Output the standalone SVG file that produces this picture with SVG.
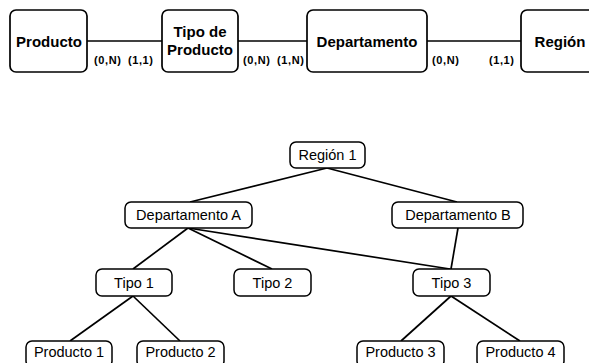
<svg xmlns="http://www.w3.org/2000/svg" width="589" height="363" viewBox="0 0 589 363">
  <style>
    .ent { fill: #fff; stroke: #000; stroke-width: 1.7; }
    .node { fill: #fff; stroke: #000; stroke-width: 1.5; }
    .edge { stroke: #000; stroke-width: 1.7; fill: none; }
    .big { font-family: "Liberation Sans", Arial, sans-serif; font-weight: bold; font-size: 15px; text-anchor: middle; fill: #000; }
    .card { font-family: "Liberation Sans", Arial, sans-serif; font-weight: bold; font-size: 11px; fill: #000; }
    .lbl { font-family: "Liberation Sans", Arial, sans-serif; font-size: 14.5px; text-anchor: middle; fill: #000; }
  </style>

  <!-- connectors -->
  <g id="connectors">
    <line class="edge" x1="87" y1="41" x2="162" y2="41"/>
    <line class="edge" x1="238" y1="41" x2="307" y2="41"/>
    <line class="edge" x1="427" y1="41" x2="521" y2="41"/>

    <line class="edge" x1="327" y1="168" x2="190" y2="202"/>
    <line class="edge" x1="327" y1="168" x2="457" y2="202"/>
    <line class="edge" x1="188" y1="228" x2="133" y2="269"/>
    <line class="edge" x1="188" y1="228" x2="272" y2="269"/>
    <line class="edge" x1="188" y1="228" x2="450" y2="269"/>
    <line class="edge" x1="458" y1="228" x2="451" y2="269"/>
    <line class="edge" x1="133" y1="296" x2="70" y2="341"/>
    <line class="edge" x1="133" y1="296" x2="180" y2="341"/>
    <line class="edge" x1="451" y1="296" x2="401" y2="341"/>
    <line class="edge" x1="451" y1="296" x2="520" y2="341"/>
  </g>

  <!-- cardinalities -->
  <g id="cardinalities">
    <text class="card" x="94" y="63.5" textLength="27" lengthAdjust="spacing">(0,N)</text>
    <text class="card" x="128" y="63.5" textLength="25" lengthAdjust="spacing">(1,1)</text>
    <text class="card" x="243" y="63.5" textLength="27" lengthAdjust="spacing">(0,N)</text>
    <text class="card" x="277" y="63.5" textLength="27" lengthAdjust="spacing">(1,N)</text>
    <text class="card" x="432" y="63.5" textLength="27" lengthAdjust="spacing">(0,N)</text>
    <text class="card" x="489" y="63.5" textLength="25" lengthAdjust="spacing">(1,1)</text>
  </g>

  <!-- entities -->
  <g id="e-producto">
    <rect class="ent" x="10" y="10" width="77" height="62" rx="6"/>
    <text class="big" x="49" y="46.5">Producto</text>
  </g>
  <g id="e-tipo">
    <rect class="ent" x="162" y="10" width="76" height="62" rx="6"/>
    <text class="big" x="200" y="37">Tipo de</text>
    <text class="big" x="200" y="55">Producto</text>
  </g>
  <g id="e-departamento">
    <rect class="ent" x="307" y="10" width="120" height="62" rx="6"/>
    <text class="big" x="367" y="46.5">Departamento</text>
  </g>
  <g id="e-region">
    <rect class="ent" x="521" y="10" width="78" height="62" rx="6"/>
    <text class="big" x="560" y="46.5">Región</text>
  </g>

  <!-- instance tree -->
  <g id="n-region1">
    <rect class="node" x="290" y="142" width="75" height="26" rx="6"/>
    <text class="lbl" x="327.5" y="160">Región 1</text>
  </g>
  <g id="n-depA">
    <rect class="node" x="125" y="202" width="127" height="26" rx="6"/>
    <text class="lbl" x="188.5" y="220">Departamento A</text>
  </g>
  <g id="n-depB">
    <rect class="node" x="392" y="202" width="131" height="26" rx="6"/>
    <text class="lbl" x="458" y="220">Departamento B</text>
  </g>
  <g id="n-tipo1">
    <rect class="node" x="96" y="269" width="76" height="27" rx="6"/>
    <text class="lbl" x="134" y="287.5">Tipo 1</text>
  </g>
  <g id="n-tipo2">
    <rect class="node" x="234" y="269" width="77" height="27" rx="6"/>
    <text class="lbl" x="272.5" y="287.5">Tipo 2</text>
  </g>
  <g id="n-tipo3">
    <rect class="node" x="413" y="269" width="77" height="27" rx="6"/>
    <text class="lbl" x="451.5" y="287.5">Tipo 3</text>
  </g>
  <g id="n-prod1">
    <rect class="node" x="26" y="341" width="86" height="26" rx="6"/>
    <text class="lbl" x="69" y="357">Producto 1</text>
  </g>
  <g id="n-prod2">
    <rect class="node" x="137" y="341" width="87" height="26" rx="6"/>
    <text class="lbl" x="180.5" y="357">Producto 2</text>
  </g>
  <g id="n-prod3">
    <rect class="node" x="357" y="341" width="87" height="26" rx="6"/>
    <text class="lbl" x="400.5" y="357">Producto 3</text>
  </g>
  <g id="n-prod4">
    <rect class="node" x="477" y="341" width="87" height="26" rx="6"/>
    <text class="lbl" x="520.5" y="357">Producto 4</text>
  </g>
</svg>
